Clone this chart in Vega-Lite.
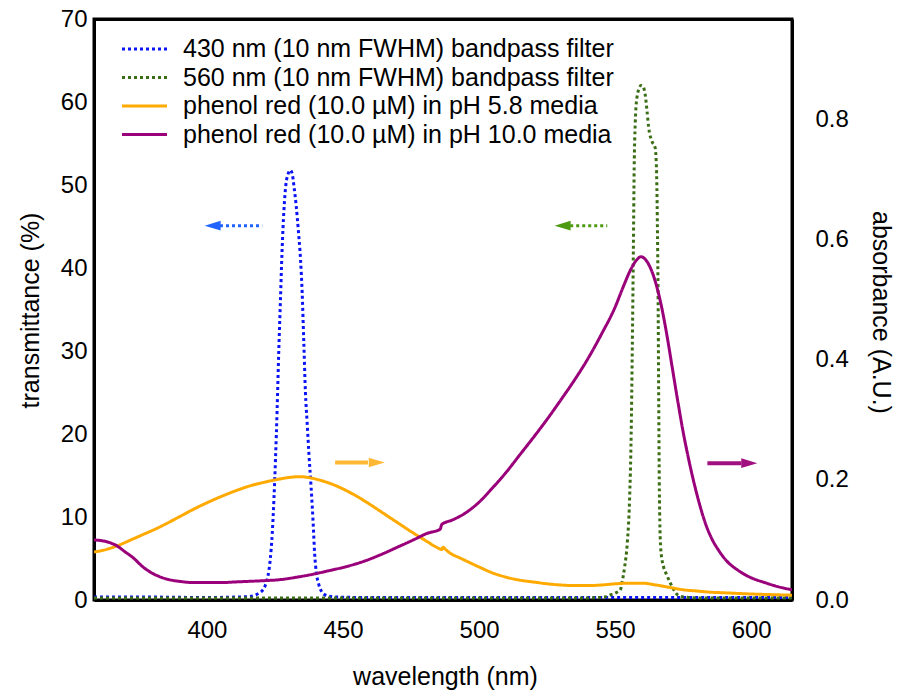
{
  "$schema": "https://vega.github.io/schema/vega-lite/v6.json",
  "width": 698,
  "height": 581,
  "autosize": {"type": "none"},
  "padding": {"left": 94, "top": 19, "right": 111, "bottom": 91},
  "background": "white",
  "config": {
    "font": "Liberation Sans",
    "view": {"stroke": "black", "strokeWidth": 3},
    "axis": {"domainColor": "black", "domainWidth": 3, "ticks": false, "grid": false, "labelColor": "black", "titleColor": "black", "labelFontSize": 24, "titleFontSize": 25, "titleFontWeight": "normal", "labelFlush": false, "labelOverlap": false}
  },
  "datasets": {
    "xticks": [{"nm": 400}, {"nm": 450}, {"nm": 500}, {"nm": 550}, {"nm": 600}],
    "ticksT": [{"T": 0}, {"T": 10}, {"T": 20}, {"T": 30}, {"T": 40}, {"T": 50}, {"T": 60}, {"T": 70}],
    "ticksA": [{"A": 0}, {"A": 0.2}, {"A": 0.4}, {"A": 0.6}, {"A": 0.8}],
    "filters": [
      {"series": "430 nm (10 nm FWHM) bandpass filter", "nm": 358.5, "T": 0.35},
      {"series": "430 nm (10 nm FWHM) bandpass filter", "nm": 380, "T": 0.35},
      {"series": "430 nm (10 nm FWHM) bandpass filter", "nm": 400, "T": 0.3},
      {"series": "430 nm (10 nm FWHM) bandpass filter", "nm": 410, "T": 0.35},
      {"series": "430 nm (10 nm FWHM) bandpass filter", "nm": 415, "T": 0.4},
      {"series": "430 nm (10 nm FWHM) bandpass filter", "nm": 417, "T": 0.5},
      {"series": "430 nm (10 nm FWHM) bandpass filter", "nm": 419, "T": 0.8},
      {"series": "430 nm (10 nm FWHM) bandpass filter", "nm": 420.5, "T": 1.2},
      {"series": "430 nm (10 nm FWHM) bandpass filter", "nm": 421.5, "T": 1.8},
      {"series": "430 nm (10 nm FWHM) bandpass filter", "nm": 422.5, "T": 3},
      {"series": "430 nm (10 nm FWHM) bandpass filter", "nm": 423.3, "T": 5},
      {"series": "430 nm (10 nm FWHM) bandpass filter", "nm": 424, "T": 8},
      {"series": "430 nm (10 nm FWHM) bandpass filter", "nm": 424.6, "T": 12},
      {"series": "430 nm (10 nm FWHM) bandpass filter", "nm": 425.2, "T": 17},
      {"series": "430 nm (10 nm FWHM) bandpass filter", "nm": 425.8, "T": 23},
      {"series": "430 nm (10 nm FWHM) bandpass filter", "nm": 426.4, "T": 30},
      {"series": "430 nm (10 nm FWHM) bandpass filter", "nm": 427, "T": 36},
      {"series": "430 nm (10 nm FWHM) bandpass filter", "nm": 427.6, "T": 42},
      {"series": "430 nm (10 nm FWHM) bandpass filter", "nm": 428.3, "T": 47},
      {"series": "430 nm (10 nm FWHM) bandpass filter", "nm": 429, "T": 50},
      {"series": "430 nm (10 nm FWHM) bandpass filter", "nm": 429.8, "T": 51.3},
      {"series": "430 nm (10 nm FWHM) bandpass filter", "nm": 430.6, "T": 51.8},
      {"series": "430 nm (10 nm FWHM) bandpass filter", "nm": 431.3, "T": 51.4},
      {"series": "430 nm (10 nm FWHM) bandpass filter", "nm": 432, "T": 49.8},
      {"series": "430 nm (10 nm FWHM) bandpass filter", "nm": 432.8, "T": 47.5},
      {"series": "430 nm (10 nm FWHM) bandpass filter", "nm": 433.6, "T": 44.5},
      {"series": "430 nm (10 nm FWHM) bandpass filter", "nm": 434.4, "T": 41},
      {"series": "430 nm (10 nm FWHM) bandpass filter", "nm": 435, "T": 37},
      {"series": "430 nm (10 nm FWHM) bandpass filter", "nm": 435.6, "T": 31},
      {"series": "430 nm (10 nm FWHM) bandpass filter", "nm": 436.2, "T": 25},
      {"series": "430 nm (10 nm FWHM) bandpass filter", "nm": 436.8, "T": 21.5},
      {"series": "430 nm (10 nm FWHM) bandpass filter", "nm": 437.5, "T": 17.5},
      {"series": "430 nm (10 nm FWHM) bandpass filter", "nm": 438.3, "T": 13.5},
      {"series": "430 nm (10 nm FWHM) bandpass filter", "nm": 439, "T": 9.5},
      {"series": "430 nm (10 nm FWHM) bandpass filter", "nm": 439.6, "T": 5.5},
      {"series": "430 nm (10 nm FWHM) bandpass filter", "nm": 440.2, "T": 3.3},
      {"series": "430 nm (10 nm FWHM) bandpass filter", "nm": 441, "T": 2},
      {"series": "430 nm (10 nm FWHM) bandpass filter", "nm": 442, "T": 1.1},
      {"series": "430 nm (10 nm FWHM) bandpass filter", "nm": 443, "T": 0.7},
      {"series": "430 nm (10 nm FWHM) bandpass filter", "nm": 445, "T": 0.45},
      {"series": "430 nm (10 nm FWHM) bandpass filter", "nm": 448, "T": 0.35},
      {"series": "430 nm (10 nm FWHM) bandpass filter", "nm": 460, "T": 0.3},
      {"series": "430 nm (10 nm FWHM) bandpass filter", "nm": 500, "T": 0.3},
      {"series": "430 nm (10 nm FWHM) bandpass filter", "nm": 550, "T": 0.3},
      {"series": "430 nm (10 nm FWHM) bandpass filter", "nm": 600, "T": 0.3},
      {"series": "430 nm (10 nm FWHM) bandpass filter", "nm": 615, "T": 0.3},
      {"series": "560 nm (10 nm FWHM) bandpass filter", "nm": 358.5, "T": 0.25},
      {"series": "560 nm (10 nm FWHM) bandpass filter", "nm": 450, "T": 0.25},
      {"series": "560 nm (10 nm FWHM) bandpass filter", "nm": 540, "T": 0.25},
      {"series": "560 nm (10 nm FWHM) bandpass filter", "nm": 546, "T": 0.35},
      {"series": "560 nm (10 nm FWHM) bandpass filter", "nm": 548.2, "T": 0.6},
      {"series": "560 nm (10 nm FWHM) bandpass filter", "nm": 550.5, "T": 0.9},
      {"series": "560 nm (10 nm FWHM) bandpass filter", "nm": 552, "T": 1.3},
      {"series": "560 nm (10 nm FWHM) bandpass filter", "nm": 552.6, "T": 2.2},
      {"series": "560 nm (10 nm FWHM) bandpass filter", "nm": 553.5, "T": 4},
      {"series": "560 nm (10 nm FWHM) bandpass filter", "nm": 554.5, "T": 7},
      {"series": "560 nm (10 nm FWHM) bandpass filter", "nm": 555.3, "T": 12},
      {"series": "560 nm (10 nm FWHM) bandpass filter", "nm": 555.9, "T": 20},
      {"series": "560 nm (10 nm FWHM) bandpass filter", "nm": 556.3, "T": 30},
      {"series": "560 nm (10 nm FWHM) bandpass filter", "nm": 556.7, "T": 42},
      {"series": "560 nm (10 nm FWHM) bandpass filter", "nm": 557, "T": 52},
      {"series": "560 nm (10 nm FWHM) bandpass filter", "nm": 557.4, "T": 57.5},
      {"series": "560 nm (10 nm FWHM) bandpass filter", "nm": 558, "T": 60.5},
      {"series": "560 nm (10 nm FWHM) bandpass filter", "nm": 558.8, "T": 61.6},
      {"series": "560 nm (10 nm FWHM) bandpass filter", "nm": 559.5, "T": 62},
      {"series": "560 nm (10 nm FWHM) bandpass filter", "nm": 560.2, "T": 61.9},
      {"series": "560 nm (10 nm FWHM) bandpass filter", "nm": 561, "T": 61},
      {"series": "560 nm (10 nm FWHM) bandpass filter", "nm": 561.7, "T": 59},
      {"series": "560 nm (10 nm FWHM) bandpass filter", "nm": 562.3, "T": 57},
      {"series": "560 nm (10 nm FWHM) bandpass filter", "nm": 563.5, "T": 55.3},
      {"series": "560 nm (10 nm FWHM) bandpass filter", "nm": 564.7, "T": 54.5},
      {"series": "560 nm (10 nm FWHM) bandpass filter", "nm": 565.2, "T": 52},
      {"series": "560 nm (10 nm FWHM) bandpass filter", "nm": 565.5, "T": 46},
      {"series": "560 nm (10 nm FWHM) bandpass filter", "nm": 565.8, "T": 36},
      {"series": "560 nm (10 nm FWHM) bandpass filter", "nm": 566, "T": 25},
      {"series": "560 nm (10 nm FWHM) bandpass filter", "nm": 566.3, "T": 12},
      {"series": "560 nm (10 nm FWHM) bandpass filter", "nm": 566.8, "T": 6},
      {"series": "560 nm (10 nm FWHM) bandpass filter", "nm": 567.8, "T": 4},
      {"series": "560 nm (10 nm FWHM) bandpass filter", "nm": 569, "T": 3},
      {"series": "560 nm (10 nm FWHM) bandpass filter", "nm": 570.2, "T": 2.1},
      {"series": "560 nm (10 nm FWHM) bandpass filter", "nm": 571.3, "T": 1.4},
      {"series": "560 nm (10 nm FWHM) bandpass filter", "nm": 572.4, "T": 0.8},
      {"series": "560 nm (10 nm FWHM) bandpass filter", "nm": 574, "T": 0.45},
      {"series": "560 nm (10 nm FWHM) bandpass filter", "nm": 577, "T": 0.3},
      {"series": "560 nm (10 nm FWHM) bandpass filter", "nm": 580, "T": 0.25},
      {"series": "560 nm (10 nm FWHM) bandpass filter", "nm": 615, "T": 0.25}
    ],
    "phenol": [
      {"series": "phenol red (10.0 µM) in pH 5.8 media", "nm": 358.5, "A": 0.08},
      {"series": "phenol red (10.0 µM) in pH 5.8 media", "nm": 362, "A": 0.083},
      {"series": "phenol red (10.0 µM) in pH 5.8 media", "nm": 365, "A": 0.087},
      {"series": "phenol red (10.0 µM) in pH 5.8 media", "nm": 368, "A": 0.092},
      {"series": "phenol red (10.0 µM) in pH 5.8 media", "nm": 371, "A": 0.098},
      {"series": "phenol red (10.0 µM) in pH 5.8 media", "nm": 374, "A": 0.104},
      {"series": "phenol red (10.0 µM) in pH 5.8 media", "nm": 377, "A": 0.11},
      {"series": "phenol red (10.0 µM) in pH 5.8 media", "nm": 380, "A": 0.116},
      {"series": "phenol red (10.0 µM) in pH 5.8 media", "nm": 385, "A": 0.127},
      {"series": "phenol red (10.0 µM) in pH 5.8 media", "nm": 390, "A": 0.139},
      {"series": "phenol red (10.0 µM) in pH 5.8 media", "nm": 395, "A": 0.151},
      {"series": "phenol red (10.0 µM) in pH 5.8 media", "nm": 400, "A": 0.162},
      {"series": "phenol red (10.0 µM) in pH 5.8 media", "nm": 405, "A": 0.172},
      {"series": "phenol red (10.0 µM) in pH 5.8 media", "nm": 410, "A": 0.181},
      {"series": "phenol red (10.0 µM) in pH 5.8 media", "nm": 415, "A": 0.189},
      {"series": "phenol red (10.0 µM) in pH 5.8 media", "nm": 420, "A": 0.195},
      {"series": "phenol red (10.0 µM) in pH 5.8 media", "nm": 425, "A": 0.2},
      {"series": "phenol red (10.0 µM) in pH 5.8 media", "nm": 430, "A": 0.204},
      {"series": "phenol red (10.0 µM) in pH 5.8 media", "nm": 434, "A": 0.2055},
      {"series": "phenol red (10.0 µM) in pH 5.8 media", "nm": 438, "A": 0.2035},
      {"series": "phenol red (10.0 µM) in pH 5.8 media", "nm": 442, "A": 0.199},
      {"series": "phenol red (10.0 µM) in pH 5.8 media", "nm": 446, "A": 0.193},
      {"series": "phenol red (10.0 µM) in pH 5.8 media", "nm": 450, "A": 0.185},
      {"series": "phenol red (10.0 µM) in pH 5.8 media", "nm": 455, "A": 0.173},
      {"series": "phenol red (10.0 µM) in pH 5.8 media", "nm": 460, "A": 0.159},
      {"series": "phenol red (10.0 µM) in pH 5.8 media", "nm": 465, "A": 0.144},
      {"series": "phenol red (10.0 µM) in pH 5.8 media", "nm": 470, "A": 0.129},
      {"series": "phenol red (10.0 µM) in pH 5.8 media", "nm": 475, "A": 0.114},
      {"series": "phenol red (10.0 µM) in pH 5.8 media", "nm": 480, "A": 0.1},
      {"series": "phenol red (10.0 µM) in pH 5.8 media", "nm": 485.7, "A": 0.085},
      {"series": "phenol red (10.0 µM) in pH 5.8 media", "nm": 486.3, "A": 0.084},
      {"series": "phenol red (10.0 µM) in pH 5.8 media", "nm": 486.8, "A": 0.088},
      {"series": "phenol red (10.0 µM) in pH 5.8 media", "nm": 487.5, "A": 0.085},
      {"series": "phenol red (10.0 µM) in pH 5.8 media", "nm": 489.4, "A": 0.078},
      {"series": "phenol red (10.0 µM) in pH 5.8 media", "nm": 493, "A": 0.07},
      {"series": "phenol red (10.0 µM) in pH 5.8 media", "nm": 496.7, "A": 0.062},
      {"series": "phenol red (10.0 µM) in pH 5.8 media", "nm": 500, "A": 0.055},
      {"series": "phenol red (10.0 µM) in pH 5.8 media", "nm": 505, "A": 0.045},
      {"series": "phenol red (10.0 µM) in pH 5.8 media", "nm": 510, "A": 0.038},
      {"series": "phenol red (10.0 µM) in pH 5.8 media", "nm": 515, "A": 0.033},
      {"series": "phenol red (10.0 µM) in pH 5.8 media", "nm": 520, "A": 0.03},
      {"series": "phenol red (10.0 µM) in pH 5.8 media", "nm": 525, "A": 0.027},
      {"series": "phenol red (10.0 µM) in pH 5.8 media", "nm": 530, "A": 0.025},
      {"series": "phenol red (10.0 µM) in pH 5.8 media", "nm": 535, "A": 0.024},
      {"series": "phenol red (10.0 µM) in pH 5.8 media", "nm": 540, "A": 0.024},
      {"series": "phenol red (10.0 µM) in pH 5.8 media", "nm": 545, "A": 0.025},
      {"series": "phenol red (10.0 µM) in pH 5.8 media", "nm": 550, "A": 0.027},
      {"series": "phenol red (10.0 µM) in pH 5.8 media", "nm": 555, "A": 0.028},
      {"series": "phenol red (10.0 µM) in pH 5.8 media", "nm": 560, "A": 0.028},
      {"series": "phenol red (10.0 µM) in pH 5.8 media", "nm": 565, "A": 0.025},
      {"series": "phenol red (10.0 µM) in pH 5.8 media", "nm": 570, "A": 0.021},
      {"series": "phenol red (10.0 µM) in pH 5.8 media", "nm": 575, "A": 0.017},
      {"series": "phenol red (10.0 µM) in pH 5.8 media", "nm": 580, "A": 0.015},
      {"series": "phenol red (10.0 µM) in pH 5.8 media", "nm": 585, "A": 0.013},
      {"series": "phenol red (10.0 µM) in pH 5.8 media", "nm": 590, "A": 0.012},
      {"series": "phenol red (10.0 µM) in pH 5.8 media", "nm": 600, "A": 0.01},
      {"series": "phenol red (10.0 µM) in pH 5.8 media", "nm": 607, "A": 0.009},
      {"series": "phenol red (10.0 µM) in pH 5.8 media", "nm": 615, "A": 0.008},
      {"series": "phenol red (10.0 µM) in pH 10.0 media", "nm": 358.5, "A": 0.1},
      {"series": "phenol red (10.0 µM) in pH 10.0 media", "nm": 361, "A": 0.099},
      {"series": "phenol red (10.0 µM) in pH 10.0 media", "nm": 364, "A": 0.096},
      {"series": "phenol red (10.0 µM) in pH 10.0 media", "nm": 367, "A": 0.09},
      {"series": "phenol red (10.0 µM) in pH 10.0 media", "nm": 370, "A": 0.08},
      {"series": "phenol red (10.0 µM) in pH 10.0 media", "nm": 373, "A": 0.07},
      {"series": "phenol red (10.0 µM) in pH 10.0 media", "nm": 376, "A": 0.057},
      {"series": "phenol red (10.0 µM) in pH 10.0 media", "nm": 379, "A": 0.047},
      {"series": "phenol red (10.0 µM) in pH 10.0 media", "nm": 382, "A": 0.04},
      {"series": "phenol red (10.0 µM) in pH 10.0 media", "nm": 386, "A": 0.034},
      {"series": "phenol red (10.0 µM) in pH 10.0 media", "nm": 390, "A": 0.031},
      {"series": "phenol red (10.0 µM) in pH 10.0 media", "nm": 395, "A": 0.029},
      {"series": "phenol red (10.0 µM) in pH 10.0 media", "nm": 400, "A": 0.029},
      {"series": "phenol red (10.0 µM) in pH 10.0 media", "nm": 405, "A": 0.029},
      {"series": "phenol red (10.0 µM) in pH 10.0 media", "nm": 410, "A": 0.03},
      {"series": "phenol red (10.0 µM) in pH 10.0 media", "nm": 415, "A": 0.031},
      {"series": "phenol red (10.0 µM) in pH 10.0 media", "nm": 420, "A": 0.032},
      {"series": "phenol red (10.0 µM) in pH 10.0 media", "nm": 427, "A": 0.034},
      {"series": "phenol red (10.0 µM) in pH 10.0 media", "nm": 433, "A": 0.038},
      {"series": "phenol red (10.0 µM) in pH 10.0 media", "nm": 439, "A": 0.043},
      {"series": "phenol red (10.0 µM) in pH 10.0 media", "nm": 445, "A": 0.049},
      {"series": "phenol red (10.0 µM) in pH 10.0 media", "nm": 451.5, "A": 0.056},
      {"series": "phenol red (10.0 µM) in pH 10.0 media", "nm": 458, "A": 0.065},
      {"series": "phenol red (10.0 µM) in pH 10.0 media", "nm": 463.6, "A": 0.075},
      {"series": "phenol red (10.0 µM) in pH 10.0 media", "nm": 470, "A": 0.088},
      {"series": "phenol red (10.0 µM) in pH 10.0 media", "nm": 475.8, "A": 0.1},
      {"series": "phenol red (10.0 µM) in pH 10.0 media", "nm": 480.9, "A": 0.111},
      {"series": "phenol red (10.0 µM) in pH 10.0 media", "nm": 485.7, "A": 0.118},
      {"series": "phenol red (10.0 µM) in pH 10.0 media", "nm": 486.3, "A": 0.126},
      {"series": "phenol red (10.0 µM) in pH 10.0 media", "nm": 487, "A": 0.128},
      {"series": "phenol red (10.0 µM) in pH 10.0 media", "nm": 490, "A": 0.133},
      {"series": "phenol red (10.0 µM) in pH 10.0 media", "nm": 495, "A": 0.145},
      {"series": "phenol red (10.0 µM) in pH 10.0 media", "nm": 500, "A": 0.163},
      {"series": "phenol red (10.0 µM) in pH 10.0 media", "nm": 505, "A": 0.187},
      {"series": "phenol red (10.0 µM) in pH 10.0 media", "nm": 510, "A": 0.213},
      {"series": "phenol red (10.0 µM) in pH 10.0 media", "nm": 515, "A": 0.242},
      {"series": "phenol red (10.0 µM) in pH 10.0 media", "nm": 520, "A": 0.271},
      {"series": "phenol red (10.0 µM) in pH 10.0 media", "nm": 525, "A": 0.301},
      {"series": "phenol red (10.0 µM) in pH 10.0 media", "nm": 530, "A": 0.333},
      {"series": "phenol red (10.0 µM) in pH 10.0 media", "nm": 535, "A": 0.366},
      {"series": "phenol red (10.0 µM) in pH 10.0 media", "nm": 540, "A": 0.402},
      {"series": "phenol red (10.0 µM) in pH 10.0 media", "nm": 545, "A": 0.443},
      {"series": "phenol red (10.0 µM) in pH 10.0 media", "nm": 550, "A": 0.488},
      {"series": "phenol red (10.0 µM) in pH 10.0 media", "nm": 553, "A": 0.522},
      {"series": "phenol red (10.0 µM) in pH 10.0 media", "nm": 556, "A": 0.553},
      {"series": "phenol red (10.0 µM) in pH 10.0 media", "nm": 558, "A": 0.567},
      {"series": "phenol red (10.0 µM) in pH 10.0 media", "nm": 559.5, "A": 0.572},
      {"series": "phenol red (10.0 µM) in pH 10.0 media", "nm": 561, "A": 0.568},
      {"series": "phenol red (10.0 µM) in pH 10.0 media", "nm": 563, "A": 0.553},
      {"series": "phenol red (10.0 µM) in pH 10.0 media", "nm": 565, "A": 0.527},
      {"series": "phenol red (10.0 µM) in pH 10.0 media", "nm": 567, "A": 0.49},
      {"series": "phenol red (10.0 µM) in pH 10.0 media", "nm": 569, "A": 0.442},
      {"series": "phenol red (10.0 µM) in pH 10.0 media", "nm": 571, "A": 0.387},
      {"series": "phenol red (10.0 µM) in pH 10.0 media", "nm": 573, "A": 0.332},
      {"series": "phenol red (10.0 µM) in pH 10.0 media", "nm": 575, "A": 0.28},
      {"series": "phenol red (10.0 µM) in pH 10.0 media", "nm": 577, "A": 0.235},
      {"series": "phenol red (10.0 µM) in pH 10.0 media", "nm": 579, "A": 0.195},
      {"series": "phenol red (10.0 µM) in pH 10.0 media", "nm": 581, "A": 0.16},
      {"series": "phenol red (10.0 µM) in pH 10.0 media", "nm": 583, "A": 0.13},
      {"series": "phenol red (10.0 µM) in pH 10.0 media", "nm": 585, "A": 0.107},
      {"series": "phenol red (10.0 µM) in pH 10.0 media", "nm": 588, "A": 0.083},
      {"series": "phenol red (10.0 µM) in pH 10.0 media", "nm": 591, "A": 0.065},
      {"series": "phenol red (10.0 µM) in pH 10.0 media", "nm": 595, "A": 0.05},
      {"series": "phenol red (10.0 µM) in pH 10.0 media", "nm": 600, "A": 0.037},
      {"series": "phenol red (10.0 µM) in pH 10.0 media", "nm": 605, "A": 0.029},
      {"series": "phenol red (10.0 µM) in pH 10.0 media", "nm": 610, "A": 0.022},
      {"series": "phenol red (10.0 µM) in pH 10.0 media", "nm": 615, "A": 0.017}
    ],
    "arrowsL": [
      {"arrow": "blue", "part": "shaft", "nm": 404.8, "T": 45.1},
      {"arrow": "blue", "part": "shaft", "nm": 420.3, "T": 45.1},
      {"arrow": "blue", "part": "head", "nm": 402.1, "T": 45.1},
      {"arrow": "green", "part": "shaft", "nm": 533.5, "T": 45.1},
      {"arrow": "green", "part": "shaft", "nm": 547.1, "T": 45.1},
      {"arrow": "green", "part": "head", "nm": 530.7, "T": 45.1}
    ],
    "arrowsR": [
      {"arrow": "orange", "part": "shaft", "nm": 447.1, "A": 0.229},
      {"arrow": "orange", "part": "shaft", "nm": 459.2, "A": 0.229},
      {"arrow": "orange", "part": "head", "nm": 462.4, "A": 0.229},
      {"arrow": "purple", "part": "shaft", "nm": 583.9, "A": 0.228},
      {"arrow": "purple", "part": "shaft", "nm": 596.4, "A": 0.228},
      {"arrow": "purple", "part": "head", "nm": 599.3, "A": 0.228}
    ]
  },
  "layer": [
    {
      "encoding": {
        "x": {"field": "nm", "type": "quantitative", "scale": {"domain": [358.5, 615], "nice": false, "zero": false},
          "axis": {"orient": "bottom", "values": [400, 450, 500, 550, 600], "labelPadding": 18, "title": "wavelength (nm)", "titleX": 351, "titleY": 76, "titleBaseline": "middle"}},
        "y": {"field": "T", "type": "quantitative", "scale": {"domain": [0, 70], "nice": false, "zero": true},
          "axis": {"orient": "left", "values": [0, 10, 20, 30, 40, 50, 60, 70], "labelPadding": 7, "title": "transmittance (%)", "titleX": -64, "titleY": 291, "titleBaseline": "middle", "titleAngle": -90}}
      },
      "layer": [
        {
          "data": {"name": "filters"},
          "mark": {"type": "line", "strokeWidth": 3, "strokeCap": "butt", "clip": true, "interpolate": "monotone"},
          "encoding": {
            "color": {"field": "series", "type": "nominal",
              "scale": {"domain": ["430 nm (10 nm FWHM) bandpass filter", "560 nm (10 nm FWHM) bandpass filter", "phenol red (10.0 µM) in pH 5.8 media", "phenol red (10.0 µM) in pH 10.0 media"], "range": ["#0a14f5", "#3b6e14", "#ffaa00", "#99007a"]},
              "legend": {"orient": "none", "legendX": 38, "legendY": 17.5, "title": null, "symbolType": "M -4.5 0 L 4.5 0", "symbolSize": 100, "symbolStrokeWidth": 3, "labelFontSize": 25, "labelOffset": 26, "rowPadding": 2.5, "padding": 0, "labelLimit": 700, "labelColor": "black", "symbolOffset": 0}},
            "strokeDash": {"field": "series", "type": "nominal",
              "scale": {"domain": ["430 nm (10 nm FWHM) bandpass filter", "560 nm (10 nm FWHM) bandpass filter", "phenol red (10.0 µM) in pH 5.8 media", "phenol red (10.0 µM) in pH 10.0 media"], "range": [[3, 3], [3, 3], [1, 0], [1, 0]]},
              "legend": {"orient": "none", "legendX": 38, "legendY": 17.5, "title": null, "symbolType": "M -4.5 0 L 4.5 0", "symbolSize": 100, "symbolStrokeWidth": 3, "labelFontSize": 25, "labelOffset": 26, "rowPadding": 2.5, "padding": 0, "labelLimit": 700, "labelColor": "black", "symbolOffset": 0}}
          }
        },
        {
          "data": {"name": "arrowsL"},
          "transform": [{"filter": "datum.arrow === 'blue' && datum.part === 'shaft'"}],
          "mark": {"type": "line", "color": "#2262ff", "strokeWidth": 3, "strokeDash": [3, 3], "strokeCap": "butt"},
          "encoding": {}
        },
        {
          "data": {"name": "arrowsL"},
          "transform": [{"filter": "datum.arrow === 'blue' && datum.part === 'head'"}],
          "mark": {"type": "point", "shape": "M -1 0 L 1 -0.6 L 1 0.6 Z", "filled": true, "size": 256, "color": "#2262ff", "opacity": 1, "strokeWidth": 0},
          "encoding": {}
        },
        {
          "data": {"name": "arrowsL"},
          "transform": [{"filter": "datum.arrow === 'green' && datum.part === 'shaft'"}],
          "mark": {"type": "line", "color": "#4c9a10", "strokeWidth": 3, "strokeDash": [3, 3], "strokeCap": "butt"},
          "encoding": {}
        },
        {
          "data": {"name": "arrowsL"},
          "transform": [{"filter": "datum.arrow === 'green' && datum.part === 'head'"}],
          "mark": {"type": "point", "shape": "M -1 0 L 1 -0.6 L 1 0.6 Z", "filled": true, "size": 256, "color": "#4c9a10", "opacity": 1, "strokeWidth": 0},
          "encoding": {}
        },
        {
          "data": {"name": "xticks"},
          "mark": {"type": "tick", "orient": "vertical", "size": 16, "thickness": 3, "color": "#000000", "opacity": 1, "yOffset": -8},
          "encoding": {"y": {"datum": 0}}
        },
        {
          "data": {"name": "xticks"},
          "mark": {"type": "tick", "orient": "vertical", "size": 16, "thickness": 3, "color": "#000000", "opacity": 1, "yOffset": 8},
          "encoding": {"y": {"datum": 70}}
        },
        {
          "data": {"name": "ticksT"},
          "mark": {"type": "tick", "orient": "horizontal", "size": 16, "thickness": 3, "color": "#000000", "opacity": 1, "xOffset": 8},
          "encoding": {"x": {"datum": 358.5}}
        }
      ]
    },
    {
      "encoding": {
        "x": {"field": "nm", "type": "quantitative", "scale": {"domain": [358.5, 615], "nice": false, "zero": false},
          "axis": {"orient": "top", "values": [400, 450, 500, 550, 600], "labels": false, "title": null}},
        "y": {"field": "A", "type": "quantitative", "scale": {"domain": [0, 0.968], "nice": false, "zero": true},
          "axis": {"orient": "right", "values": [0, 0.2, 0.4, 0.6, 0.8], "format": ".1f", "labelPadding": 23, "title": "absorbance (A.U.)", "titleX": 88, "titleY": 293, "titleBaseline": "middle", "titleAngle": 90}}
      },
      "layer": [
        {
          "data": {"name": "phenol"},
          "mark": {"type": "line", "strokeWidth": 3, "strokeCap": "butt", "clip": true, "interpolate": "monotone"},
          "encoding": {
            "color": {"field": "series", "type": "nominal",
              "scale": {"domain": ["430 nm (10 nm FWHM) bandpass filter", "560 nm (10 nm FWHM) bandpass filter", "phenol red (10.0 µM) in pH 5.8 media", "phenol red (10.0 µM) in pH 10.0 media"], "range": ["#0a14f5", "#3b6e14", "#ffaa00", "#99007a"]},
              "legend": {"orient": "none", "legendX": 38, "legendY": 17.5, "title": null, "symbolType": "M -4.5 0 L 4.5 0", "symbolSize": 100, "symbolStrokeWidth": 3, "labelFontSize": 25, "labelOffset": 26, "rowPadding": 2.5, "padding": 0, "labelLimit": 700, "labelColor": "black", "symbolOffset": 0}},
            "strokeDash": {"field": "series", "type": "nominal",
              "scale": {"domain": ["430 nm (10 nm FWHM) bandpass filter", "560 nm (10 nm FWHM) bandpass filter", "phenol red (10.0 µM) in pH 5.8 media", "phenol red (10.0 µM) in pH 10.0 media"], "range": [[3, 3], [3, 3], [1, 0], [1, 0]]},
              "legend": {"orient": "none", "legendX": 38, "legendY": 17.5, "title": null, "symbolType": "M -4.5 0 L 4.5 0", "symbolSize": 100, "symbolStrokeWidth": 3, "labelFontSize": 25, "labelOffset": 26, "rowPadding": 2.5, "padding": 0, "labelLimit": 700, "labelColor": "black", "symbolOffset": 0}}
          }
        },
        {
          "data": {"name": "arrowsR"},
          "transform": [{"filter": "datum.arrow === 'orange' && datum.part === 'shaft'"}],
          "mark": {"type": "line", "color": "#ffb833", "strokeWidth": 4, "strokeCap": "butt"},
          "encoding": {}
        },
        {
          "data": {"name": "arrowsR"},
          "transform": [{"filter": "datum.arrow === 'orange' && datum.part === 'head'"}],
          "mark": {"type": "point", "shape": "M 1 0 L -1 -0.6 L -1 0.6 Z", "filled": true, "size": 256, "color": "#ffb833", "opacity": 1, "strokeWidth": 0},
          "encoding": {}
        },
        {
          "data": {"name": "arrowsR"},
          "transform": [{"filter": "datum.arrow === 'purple' && datum.part === 'shaft'"}],
          "mark": {"type": "line", "color": "#a01080", "strokeWidth": 4, "strokeCap": "butt"},
          "encoding": {}
        },
        {
          "data": {"name": "arrowsR"},
          "transform": [{"filter": "datum.arrow === 'purple' && datum.part === 'head'"}],
          "mark": {"type": "point", "shape": "M 1 0 L -1 -0.6 L -1 0.6 Z", "filled": true, "size": 256, "color": "#a01080", "opacity": 1, "strokeWidth": 0},
          "encoding": {}
        },
        {
          "data": {"name": "ticksA"},
          "mark": {"type": "tick", "orient": "horizontal", "size": 16, "thickness": 3, "color": "#000000", "opacity": 1, "xOffset": -8},
          "encoding": {"x": {"datum": 615}}
        }
      ]
    }
  ],
  "resolve": {"scale": {"y": "independent"}, "axis": {"x": "independent"}}
}
